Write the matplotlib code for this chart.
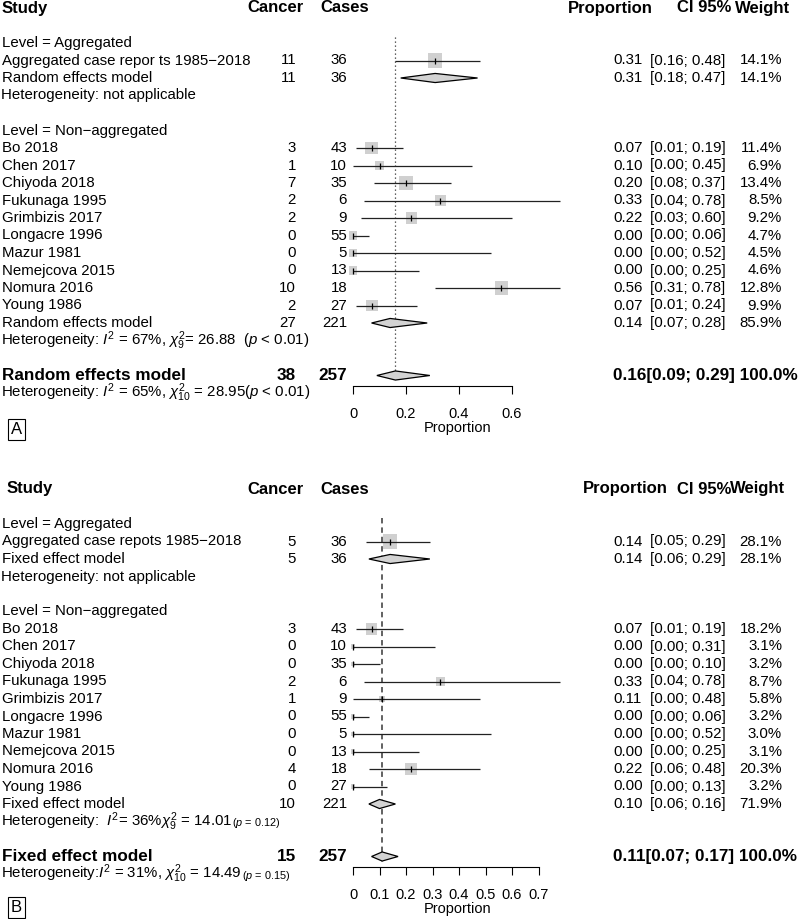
import matplotlib
matplotlib.use("Agg")
import matplotlib.pyplot as plt
from matplotlib import transforms
from matplotlib.patches import Polygon

plt.rcParams["font.family"] = ["Liberation Sans", "DejaVu Sans"]
plt.rcParams["mathtext.fontset"] = "custom"
plt.rcParams["mathtext.rm"] = "Liberation Sans"
plt.rcParams["mathtext.it"] = "Liberation Sans:italic"
plt.rcParams["mathtext.bf"] = "Liberation Sans:bold"

# studies shared by both panels
studies = ["Bo 2018", "Chen 2017", "Chiyoda 2018", "Fukunaga 1995", "Grimbizis 2017",
           "Longacre 1996", "Mazur 1981", "Nemejcova 2015", "Nomura 2016", "Young 1986"]
cases = [43, 10, 35, 6, 9, 55, 5, 13, 18, 27]

# panel A (random effects)
a_cancer = [3, 1, 7, 2, 2, 0, 0, 0, 10, 2]
a_prop = [0.07, 0.10, 0.20, 0.33, 0.22, 0.00, 0.00, 0.00, 0.56, 0.07]
a_lower = [0.01, 0.00, 0.08, 0.04, 0.03, 0.00, 0.00, 0.00, 0.31, 0.01]
a_upper = [0.19, 0.45, 0.37, 0.78, 0.60, 0.06, 0.52, 0.25, 0.78, 0.24]
a_weight = [11.4, 6.9, 13.4, 8.5, 9.2, 4.7, 4.5, 4.6, 12.8, 9.9]
a_agg_counts = [11, 36]
a_agg_study = [0.31, 0.16, 0.48, 14.1]     # estimate, lower, upper, weight
a_agg_pooled = [0.31, 0.18, 0.47, 14.1]
a_sub_counts = [27, 221]
a_sub_pooled = [0.14, 0.07, 0.28, 85.9]
a_all_counts = [38, 257]
a_all_pooled = [0.16, 0.09, 0.29, 100.0]
a_ticks = [0, 0.2, 0.4, 0.6]

# panel B (fixed effect)
b_cancer = [3, 0, 0, 2, 1, 0, 0, 0, 4, 0]
b_prop = [0.07, 0.00, 0.00, 0.33, 0.11, 0.00, 0.00, 0.00, 0.22, 0.00]
b_lower = [0.01, 0.00, 0.00, 0.04, 0.00, 0.00, 0.00, 0.00, 0.06, 0.00]
b_upper = [0.19, 0.31, 0.10, 0.78, 0.48, 0.06, 0.52, 0.25, 0.48, 0.13]
b_weight = [18.2, 3.1, 3.2, 8.7, 5.8, 3.2, 3.0, 3.1, 20.3, 3.2]
b_agg_counts = [5, 36]
b_agg_study = [0.14, 0.05, 0.29, 28.1]
b_agg_pooled = [0.14, 0.06, 0.29, 28.1]
b_sub_counts = [10, 221]
b_sub_pooled = [0.10, 0.06, 0.16, 71.9]
b_all_counts = [15, 257]
b_all_pooled = [0.11, 0.07, 0.17, 100.0]
b_ticks = [0, 0.1, 0.2, 0.3, 0.4, 0.5, 0.6, 0.7]

W, H = 800, 919
X0, PXU = 353, 265      # pixel of proportion 0 and pixels per unit
ROW = 17.5              # row pitch in pixels
FS = 10.8
GREY = "#d0d0d0"


def px(x):
    return x / W


def fmt_tick(t):
    return "0" if t == 0 else f"{t:g}"


def diamond(ax, est, lo, hi, row, h=0.26):
    ax.add_patch(Polygon([(lo, row), (est, row - h), (hi, row), (est, row + h)],
                         closed=True, facecolor="#d3d3d3", edgecolor="black", lw=0.9, zorder=4))


def draw_panel(fig, top, bottom, y0, p):
    ax = fig.add_axes([0, 1 - bottom / H, 1, (bottom - top) / H])
    ax.set_xlim(-X0 / PXU, (W - X0) / PXU)
    ax.set_ylim((bottom - y0) / ROW, (top - y0) / ROW)
    ax.patch.set_visible(False)
    for s in ["left", "right", "top"]:
        ax.spines[s].set_visible(False)
    ax.set_yticks([])

    # x axis below the overall summary
    ax.spines["bottom"].set_position(("data", 21.6))
    ax.spines["bottom"].set_bounds(0, p["ticks"][-1])
    ax.spines["bottom"].set_linewidth(0.8)
    ax.set_xticks(p["ticks"])
    ax.set_xticklabels([fmt_tick(t) for t in p["ticks"]])
    ax.tick_params(axis="x", direction="out", length=5.8, width=0.8, pad=9, labelsize=10.5)

    tr = transforms.blended_transform_factory(ax.transAxes, ax.transData)

    def txt(x, row, s, ha="left", **kw):
        kw.setdefault("fontsize", FS)
        return ax.text(px(x), row, s, ha=ha, va="center", transform=tr, **kw)

    # header
    hx = p["head_x"]
    for x, s in zip(hx, ["Study", "Cancer", "Cases", "Proportion", "CI 95%", "Weight"]):
        txt(x, 0, s, fontsize=12, fontweight="bold")

    def values(row, est, lo, hi, w):
        txt(613, row, f"{est:.2f}")
        txt(650, row, f"[{lo:.2f}; {hi:.2f}]")
        txt(782, row, f"{w:.1f}%", ha="right")

    # reference line (sits over the squares, under the diamonds)
    ax.plot([p["all_pooled"][0]] * 2, [1.66, 21.3], color=p["ref_color"], lw=p["ref_lw"],
            linestyle=p["ref_ls"], zorder=2.5)

    # aggregated subgroup
    txt(2, 2, "Level = Aggregated")
    txt(2, 3, p["agg_name"])
    txt(296, 3, str(p["agg_counts"][0]), ha="right")
    txt(347, 3, str(p["agg_counts"][1]), ha="right")
    values(3, *p["agg_study"])
    txt(2, 4, p["model"])
    txt(296, 4, str(p["agg_counts"][0]), ha="right")
    txt(347, 4, str(p["agg_counts"][1]), ha="right")
    values(4, *p["agg_pooled"])
    txt(1, 5, "Heterogeneity: not applicable")

    # individual studies
    txt(2, 7, "Level = Non\u2212aggregated")
    rows = list(range(8, 8 + len(studies)))
    est = [p["agg_study"][0]] + list(p["prop"])
    lo = [p["agg_study"][1]] + list(p["lower"])
    hi = [p["agg_study"][2]] + list(p["upper"])
    wt = [p["agg_study"][3]] + list(p["weight"])
    yy = [3] + rows
    sizes = [(p["box_k"] * w ** 0.5 * 0.72) ** 2 for w in wt]
    ax.scatter(est, yy, marker="s", s=sizes, color=GREY, linewidths=0, zorder=2)
    ax.hlines(yy, lo, hi, color="#222222", lw=0.9, zorder=3)
    ax.scatter(est, yy, marker="|", s=14, color="black", linewidths=0.9, zorder=3)
    for r, name, c, n, e, l, u, w in zip(rows, studies, p["cancer"], cases,
                                         p["prop"], p["lower"], p["upper"], p["weight"]):
        txt(2, r, name)
        txt(296, r, str(c), ha="right")
        txt(347, r, str(n), ha="right")
        values(r, e, l, u, w)

    # subgroup summary
    txt(2, 18, p["model"])
    txt(296, 18, str(p["sub_counts"][0]), ha="right")
    txt(347, 18, str(p["sub_counts"][1]), ha="right")
    values(18, *p["sub_pooled"])
    t = txt(1, 19, p["sub_het"][0])
    if p["sub_het"][1]:
        ax.annotate(p["sub_het"][1], xy=(1, 0.42), xycoords=t, va="center", ha="left", fontsize=7.8)

    # pooled summaries as diamonds
    diamond(ax, *p["agg_pooled"][:3], 4)
    diamond(ax, *p["sub_pooled"][:3], 18)
    diamond(ax, *p["all_pooled"][:3], 21)

    # overall
    txt(2, 21, p["model"], fontsize=12.3, fontweight="bold")
    txt(296, 21, str(p["all_counts"][0]), ha="right", fontsize=12.3, fontweight="bold")
    txt(347, 21, str(p["all_counts"][1]), ha="right", fontsize=12.3, fontweight="bold")
    e, l, u, w = p["all_pooled"]
    txt(613, 21, f"{e:.2f}[{l:.2f}; {u:.2f}] {w:.1f}%", fontsize=12.3, fontweight="bold")
    t = txt(1, 22, p["all_het"][0])
    if p["all_het"][1]:
        ax.annotate(p["all_het"][1], xy=(1, 0.42), xycoords=t, va="center", ha="left", fontsize=7.8)

    txt(457.5, 24, "Proportion", ha="center", fontsize=10.5)
    txt(16.5, p["letter_row"], p["letter"], ha="center", fontsize=12,
        bbox=dict(boxstyle="square,pad=0.18", facecolor="white", edgecolor="black", lw=0.8))
    return ax


fig = plt.figure(figsize=(W / 100, H / 100), dpi=100)

panel_a = dict(cancer=a_cancer, prop=a_prop, lower=a_lower, upper=a_upper, weight=a_weight,
               agg_counts=a_agg_counts, agg_study=a_agg_study, agg_pooled=a_agg_pooled,
               sub_counts=a_sub_counts, sub_pooled=a_sub_pooled,
               all_counts=a_all_counts, all_pooled=a_all_pooled, ticks=a_ticks,
               model="Random effects model",
               agg_name="Aggregated case repor ts 1985\u22122018",
               sub_het=(r"Heterogeneity: $I^2$ = 67%, $\chi^2_9$= 26.88  ($p$ < 0.01)", None),
               all_het=(r"Heterogeneity: $I^2$ = 65%, $\chi^2_{10}$ = 28.95($p$ < 0.01)", None),
               head_x=[2, 247, 320, 568, 677, 735], box_k=3.8,
               ref_color="#333333", ref_lw=0.9, ref_ls=(0, (1, 2.2)),
               letter="A", letter_row=24.1)

panel_b = dict(cancer=b_cancer, prop=b_prop, lower=b_lower, upper=b_upper, weight=b_weight,
               agg_counts=b_agg_counts, agg_study=b_agg_study, agg_pooled=b_agg_pooled,
               sub_counts=b_sub_counts, sub_pooled=b_sub_pooled,
               all_counts=b_all_counts, all_pooled=b_all_pooled, ticks=b_ticks,
               model="Fixed effect model",
               agg_name="Aggregated case repots 1985\u22122018",
               sub_het=(r"Heterogeneity:  $I^2$= 36%$\chi^2_9$ = 14.01", r"($p$ = 0.12)"),
               all_het=(r"Heterogeneity:$I^2$ = 31%, $\chi^2_{10}$ = 14.49", r"($p$ = 0.15)"),
               head_x=[7, 247, 320, 583, 677, 730], box_k=2.75,
               ref_color="#555555", ref_lw=1.3, ref_ls=(0, (3, 2.2)),
               letter="B", letter_row=23.9)

draw_panel(fig, 0, 460, 8, panel_a)
draw_panel(fig, 460, 919, 489, panel_b)

fig.savefig("out.png", dpi=100)
